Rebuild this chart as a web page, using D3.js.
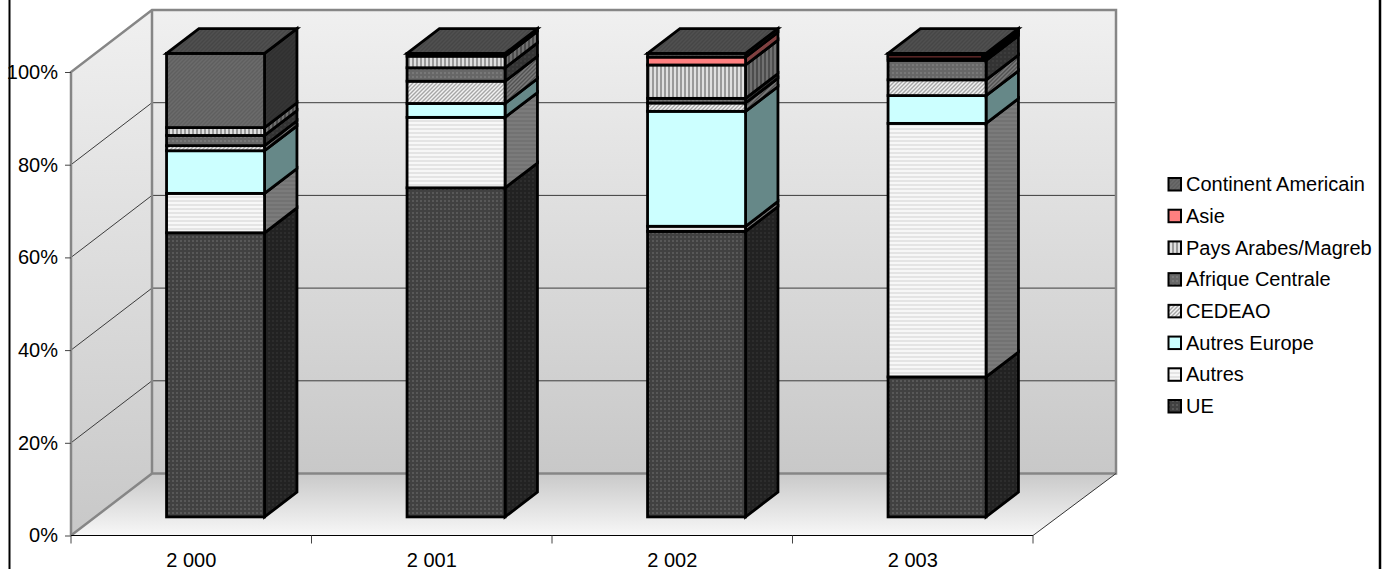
<!DOCTYPE html>
<html>
<head>
<meta charset="utf-8">
<script src="https://cdnjs.cloudflare.com/ajax/libs/d3/7.8.5/d3.min.js"></script>
<style>
html, body { margin: 0; padding: 0; background: #fff; }
svg { display: block; }
text { font-family: "Liberation Sans", Arial, sans-serif; fill: #000; }
</style>
</head>
<body>
<div id="chart"></div>
<script>
var years = ["2 000", "2 001", "2 002", "2 003"];
var seriesNames = ["UE", "Autres", "Autres Europe", "CEDEAO", "Afrique Centrale", "Pays Arabes/Magreb", "Asie", "Continent Americain"];
var ue = [61.3, 71.0, 61.6, 30.2];
var autres = [8.5, 15.2, 1.1, 54.7];
var autresEurope = [9.2, 3.0, 24.8, 6.0];
var cedeao = [1.1, 4.8, 1.8, 3.4];
var afriqueCentrale = [2.2, 2.9, 1.0, 4.2];
var paysArabes = [1.7, 2.5, 7.2, 0.5];
var asie = [0, 0, 1.7, 0.5];
var continentAmericain = [16.0, 0.6, 0.8, 0.5];
var seriesValues = [ue, autres, autresEurope, cedeao, afriqueCentrale, paysArabes, asie, continentAmericain];
var yTicks = [0, 20, 40, 60, 80, 100];

var width = 1385, height = 569;
var depthX = 81, depthY = -62;      // how far the back wall sits from the front axis
var barStart = 0.3, barDepth = 0.4; // bars sit in the middle of the floor depth
var barRatio = 98 / 240.5;
var backRight = 1116;
var fontSize = 20;

var svg = d3.select("#chart").append("svg").attr("width", width).attr("height", height);
var defs = svg.append("defs");

var x = d3.scaleBand().domain(years).range([71, 1033]);
var y = d3.scaleLinear().domain([0, 100]).range([535.5, 72]);

function gradient(id, top, bottom) {
    var g = defs.append("linearGradient").attr("id", id).attr("x1", 0).attr("y1", 0).attr("x2", 0).attr("y2", 1);
    g.append("stop").attr("offset", "0%").attr("stop-color", top);
    g.append("stop").attr("offset", "100%").attr("stop-color", bottom);
}
gradient("wall", "#f0f0f0", "#c8c8c8");
gradient("floor", "#c9c9c9", "#f7f7f7");

function pattern(id, w, h, bg, draw) {
    var p = defs.append("pattern").attr("id", id).attr("patternUnits", "userSpaceOnUse").attr("width", w).attr("height", h);
    p.append("rect").attr("width", w).attr("height", h).attr("fill", bg);
    draw(p);
}
function dots(bg, fg) {
    return function(id) {
        pattern(id, 4, 4, bg, function(p) {
            p.append("rect").attr("width", 2).attr("height", 2).attr("fill", fg);
        });
    };
}
function hlines(bg, fg) {
    return function(id) {
        pattern(id, 4, 4, bg, function(p) {
            p.append("rect").attr("width", 4).attr("height", 2).attr("fill", fg);
        });
    };
}
function vlines(bg, fg) {
    return function(id) {
        pattern(id, 4, 4, bg, function(p) {
            p.append("rect").attr("width", 2).attr("height", 4).attr("fill", fg);
        });
    };
}
function diag(bg, fg) {
    return function(id) {
        pattern(id, 4, 4, bg, function(p) {
            p.append("path").attr("d", "M-1,1L1,-1M0,4L4,0M3,5L5,3").attr("stroke", fg).attr("stroke-width", 1.4);
        });
    };
}
function plain(bg) {
    return function(id) { pattern(id, 4, 4, bg, function() {}); };
}

var fronts = [dots("#414141", "#585858"), hlines("#f7f7f7", "#e4e4e4"), plain("#ccffff"), diag("#f2f2f2", "#a6a6a6"),
              dots("#676767", "#787878"), vlines("#e0e0e0", "#9a9a9a"), plain("#ff8080"), diag("#6b6b6b", "#5f5f5f")];
var sides = [dots("#222222", "#2d2d2d"), hlines("#7b7b7b", "#727272"), plain("#668888"), diag("#7a7a7a", "#525252"),
             dots("#333333", "#3c3c3c"), vlines("#707070", "#4d4d4d"), plain("#804040"), diag("#363636", "#303030")];
fronts.forEach(function(f, i) { f("front" + i); });
sides.forEach(function(f, i) { f("side" + i); });
diag("#505050", "#464646")("topFace");

// walls and floor
var plot = svg.append("g");
var line = d3.line();
var x0 = x.range()[0], x1 = x.range()[1];
var backLeft = x0 + depthX;
plot.append("path").attr("fill", "url(#wall)")
    .attr("d", line([[x0, y(0)], [backLeft, y(0) + depthY], [backLeft, y(100) + depthY], [x0, y(100)]]) + "Z");
plot.append("rect").attr("fill", "url(#wall)")
    .attr("x", backLeft).attr("y", y(100) + depthY)
    .attr("width", backRight - backLeft).attr("height", y(0) - y(100));
plot.append("path").attr("fill", "url(#floor)")
    .attr("d", line([[x0, y(0)], [backLeft, y(0) + depthY], [backRight, y(0) + depthY], [x1, y(0)]]) + "Z");

// gridlines, on both walls
yTicks.slice(1, -1).forEach(function(t) {
    plot.append("path").attr("fill", "none").attr("stroke", "#3c3c3c").attr("stroke-width", 1)
        .attr("d", line([[x0, y(t)], [backLeft, y(t) + depthY], [backRight, y(t) + depthY]]));
});

// wall outlines
plot.append("path").attr("fill", "none").attr("stroke", "#868686").attr("stroke-width", 2.5)
    .attr("d", line([[x0, y(0)], [backLeft, y(0) + depthY], [backRight, y(0) + depthY], [backRight, y(100) + depthY],
                     [backLeft, y(100) + depthY], [x0, y(100)], [x0, y(0)]]));
plot.append("path").attr("fill", "none").attr("stroke", "#868686").attr("stroke-width", 2.5)
    .attr("d", line([[backLeft, y(100) + depthY], [backLeft, y(0) + depthY]]));
plot.append("path").attr("fill", "none").attr("stroke", "#333").attr("stroke-width", 1)
    .attr("d", line([[x1, y(0)], [backRight, y(0) + depthY]]));

// axes
var yAxis = d3.axisLeft(y).tickValues(yTicks).tickSize(6).tickPadding(7).tickFormat(function(d) { return d + "%"; });
var gy = svg.append("g").attr("transform", "translate(" + x0 + ",0)").call(yAxis);
gy.select(".domain").remove();
gy.selectAll("line").attr("stroke", "#444");
gy.selectAll("text").attr("font-size", fontSize).attr("font-family", null);

var xAxis = d3.axisBottom(x).tickSize(0).tickPadding(0);
var gx = svg.append("g").attr("transform", "translate(0," + y(0) + ")").call(xAxis);
gx.select(".domain").remove();
gx.selectAll("text").attr("font-size", fontSize).attr("font-family", null).attr("y", 31.5).attr("dy", 0);
svg.append("line").attr("x1", x0).attr("x2", x1).attr("y1", y(0)).attr("y2", y(0)).attr("stroke", "#000").attr("stroke-width", 1);
years.concat(["end"]).forEach(function(d, i) {
    var tx = x0 + i * x.step();
    svg.append("line").attr("x1", tx).attr("x2", tx).attr("y1", y(0)).attr("y2", y(0) + 8).attr("stroke", "#444");
});

// stacked bars
var stackRows = years.map(function(yr, i) {
    var row = {year: yr};
    seriesNames.forEach(function(s, j) { row[s] = seriesValues[j][i]; });
    return row;
});
var stacked = d3.stack().keys(seriesNames)(stackRows);

var barW = x.bandwidth() * barRatio;
var offX = depthX * barStart, offY = depthY * barStart;
var dX = depthX * barDepth, dY = depthY * barDepth;
var bars = svg.append("g").attr("stroke", "#000").attr("stroke-width", 2.8).attr("stroke-linejoin", "miter");

years.forEach(function(yr, i) {
    var left = x(yr) + (x.bandwidth() - barW) / 2 + offX;
    var right = left + barW;
    stacked.forEach(function(layer, j) {
        var lo = y(layer[i][0]) + offY, hi = y(layer[i][1]) + offY;
        if (layer[i][1] - layer[i][0] <= 0) return;
        bars.append("path").attr("fill", "url(#side" + j + ")")
            .attr("d", line([[right, lo], [right + dX, lo + dY], [right + dX, hi + dY], [right, hi]]) + "Z");
        bars.append("rect").attr("fill", "url(#front" + j + ")")
            .attr("x", left).attr("y", hi).attr("width", barW).attr("height", lo - hi);
    });
    var top = y(100) + offY;
    bars.append("path").attr("fill", "url(#topFace)")
        .attr("d", line([[left, top], [left + dX, top + dY], [right + dX, top + dY], [right, top]]) + "Z");
    // a very thin Asie band is only a dark red hairline inside its outline
    var asieLayer = stacked[seriesNames.indexOf("Asie")][i];
    var band = y(asieLayer[0]) - y(asieLayer[1]);
    if (band > 0 && band < 3) {
        svg.append("rect").attr("x", left + 1).attr("y", y(asieLayer[1]) + offY + band / 2 - 0.5)
            .attr("width", barW - 6).attr("height", 1).attr("fill", "#8a3a3a");
    }
});

// frame
svg.append("line").attr("x1", 9.5).attr("x2", 9.5).attr("y1", 0).attr("y2", height).attr("stroke", "#000").attr("stroke-width", 2);
svg.append("line").attr("x1", 1380).attr("x2", 1380).attr("y1", 0).attr("y2", height).attr("stroke", "#000").attr("stroke-width", 2.5);

// legend, top entry is the last series
var legendY = d3.scalePoint().domain(seriesNames.slice().reverse()).range([184, 406]);
var legend = svg.append("g");
seriesNames.forEach(function(name, j) {
    var ly = legendY(name);
    legend.append("rect").attr("x", 1168.5).attr("y", ly - 6).attr("width", 12.5).attr("height", 12.5)
        .attr("fill", "url(#front" + j + ")").attr("stroke", "#000").attr("stroke-width", 2);
    legend.append("text").attr("x", 1186).attr("y", ly).attr("dy", "0.36em").attr("font-size", fontSize).text(name);
});
</script>
</body>
</html>
